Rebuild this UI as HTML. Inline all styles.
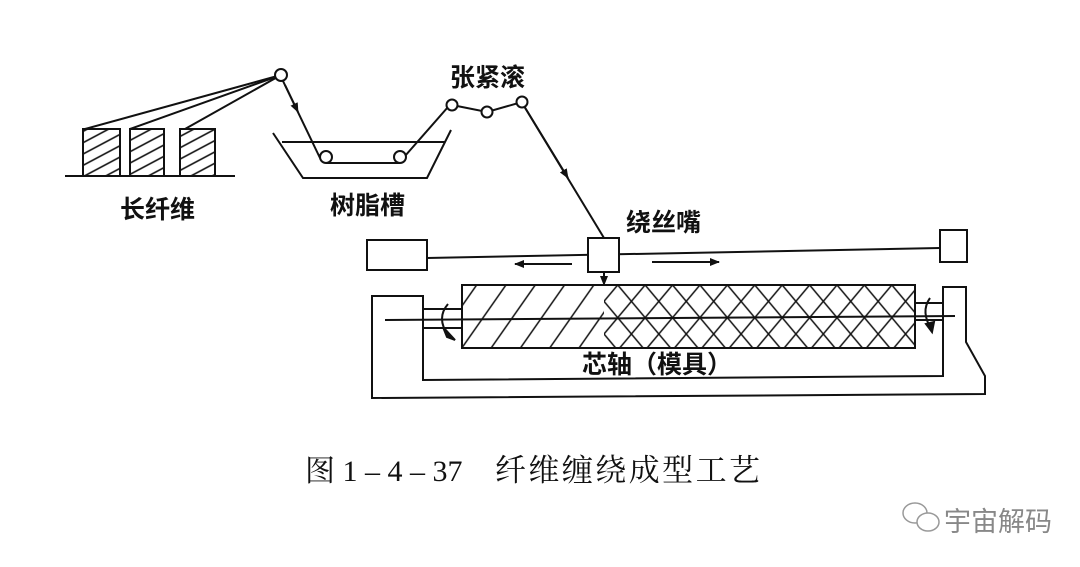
<!DOCTYPE html>
<html><head><meta charset="utf-8"><style>
html,body{margin:0;padding:0;background:#fff;}
svg{display:block;}
text{font-family:"Liberation Sans","Noto Sans CJK SC",sans-serif;fill:#111;}
.l{font-weight:bold;}
.s{font-family:"Liberation Serif","Noto Serif CJK SC",serif;}
</style></head><body>
<svg width="1080" height="567" viewBox="0 0 1080 567" xmlns="http://www.w3.org/2000/svg">
<defs>
<pattern id="sp" width="10" height="10" patternUnits="userSpaceOnUse" patternTransform="rotate(-28)">
<line x1="0" y1="5" x2="10" y2="5" stroke="#111" stroke-width="1.6"/></pattern>
<pattern id="d0" width="24" height="24" patternUnits="userSpaceOnUse" patternTransform="rotate(-55)">
<line x1="0" y1="12" x2="24" y2="12" stroke="#111" stroke-width="1.6"/></pattern>
<pattern id="d1" width="21" height="21" patternUnits="userSpaceOnUse" patternTransform="rotate(-50)">
<line x1="0" y1="10.5" x2="21" y2="10.5" stroke="#111" stroke-width="1.6"/></pattern>
<pattern id="d2" width="21" height="21" patternUnits="userSpaceOnUse" patternTransform="rotate(50)">
<line x1="0" y1="10.5" x2="21" y2="10.5" stroke="#111" stroke-width="1.6"/></pattern>
<marker id="ah" markerWidth="10" markerHeight="8" refX="9" refY="4" orient="auto" markerUnits="userSpaceOnUse">
<path d="M0,0 L10,4 L0,8 Z" fill="#111"/></marker>
</defs>
<g stroke="#111" stroke-width="2" fill="none">
<rect x="83" y="129" width="37" height="47" fill="url(#sp)"/>
<rect x="130" y="129" width="34" height="47" fill="url(#sp)"/>
<rect x="180" y="129" width="35" height="47" fill="url(#sp)"/>
<line x1="65" y1="176" x2="235" y2="176"/>
<line x1="281" y1="75" x2="85" y2="129"/>
<line x1="281" y1="75" x2="130" y2="129"/>
<line x1="281" y1="75" x2="185" y2="129"/>
<circle cx="281" cy="75" r="6" fill="#fff"/>
<polyline points="273,133 303,178 427,178 451,130"/>
<line x1="282" y1="142" x2="445" y2="142"/>
<line x1="283" y1="81" x2="320" y2="158"/>
<line x1="285" y1="85" x2="298" y2="112" marker-end="url(#ah)"/>
<line x1="326" y1="163" x2="400" y2="163"/>
<line x1="405" y1="156" x2="448" y2="107"/>
<circle cx="326" cy="157" r="6" fill="#fff"/>
<circle cx="400" cy="157" r="6" fill="#fff"/>
<polyline points="452,105 487,112 522,102"/>
<line x1="524" y1="106" x2="604" y2="238"/>
<line x1="524" y1="106" x2="568" y2="178" marker-end="url(#ah)"/>
<circle cx="452" cy="105" r="5.5" fill="#fff"/>
<circle cx="487" cy="112" r="5.5" fill="#fff"/>
<circle cx="522" cy="102" r="5.5" fill="#fff"/>
<rect x="367" y="240" width="60" height="30"/>
<line x1="427" y1="258" x2="940" y2="248"/>
<rect x="940" y="230" width="27" height="32"/>
<rect x="588" y="238" width="31" height="34" fill="#fff"/>
<line x1="572" y1="264" x2="515" y2="264" marker-end="url(#ah)"/>
<line x1="652" y1="262" x2="719" y2="262" marker-end="url(#ah)"/>
<line x1="604" y1="272" x2="604" y2="285" marker-end="url(#ah)"/>
<path d="M372,296 L423,296 L423,380 L943,376 L943,287 L966,287 L966,342 L985,376 L985,394 L372,398 Z"/>
<line x1="423" y1="309" x2="462" y2="309"/><line x1="423" y1="328" x2="462" y2="328"/>
<line x1="915" y1="303" x2="943" y2="303"/><line x1="915" y1="320" x2="943" y2="320"/>
<path d="M448,304 Q436,318 448,335"/>
<path d="M447,337 L455,340 L443,327 Z" fill="#111"/>
<path d="M930,298 Q920,312 932,330"/>
<path d="M932,332 L934,322 L926,324 Z" fill="#111"/>
<rect x="462" y="285" width="453" height="63" fill="#fff"/>
<svg x="462" y="285" width="142" height="63" overflow="hidden"><rect width="142" height="63" fill="url(#d0)" stroke="none"/></svg>
<svg x="604" y="285" width="311" height="63" overflow="hidden"><rect width="311" height="63" fill="url(#d1)" stroke="none"/><rect width="311" height="63" fill="url(#d2)" stroke="none"/></svg>
<rect x="462" y="285" width="453" height="63"/>
<line x1="385" y1="320" x2="955" y2="316"/>
</g>
<text class="l" x="120" y="218" font-size="25">长纤维</text>
<text class="l" x="330" y="214" font-size="25">树脂槽</text>
<text class="l" x="450" y="86" font-size="25">张紧滚</text>
<text class="l" x="626" y="231" font-size="25">绕丝嘴</text>
<text class="l" x="582" y="373" font-size="25">芯轴（模具）</text>
<text class="s" x="305" y="481" font-size="30">图 1 – 4 – 37</text>
<text class="s" x="495" y="481" font-size="31" textLength="265" lengthAdjust="spacing">纤维缠绕成型工艺</text>
<g stroke="#999" stroke-width="1.5" fill="none">
<ellipse cx="915" cy="513" rx="12" ry="10"/>
<ellipse cx="928" cy="522" rx="11" ry="9" fill="#fff"/>
</g>
<text x="944" y="531" font-size="27" style="fill:#888">宇宙解码</text>
</svg>
</body></html>
